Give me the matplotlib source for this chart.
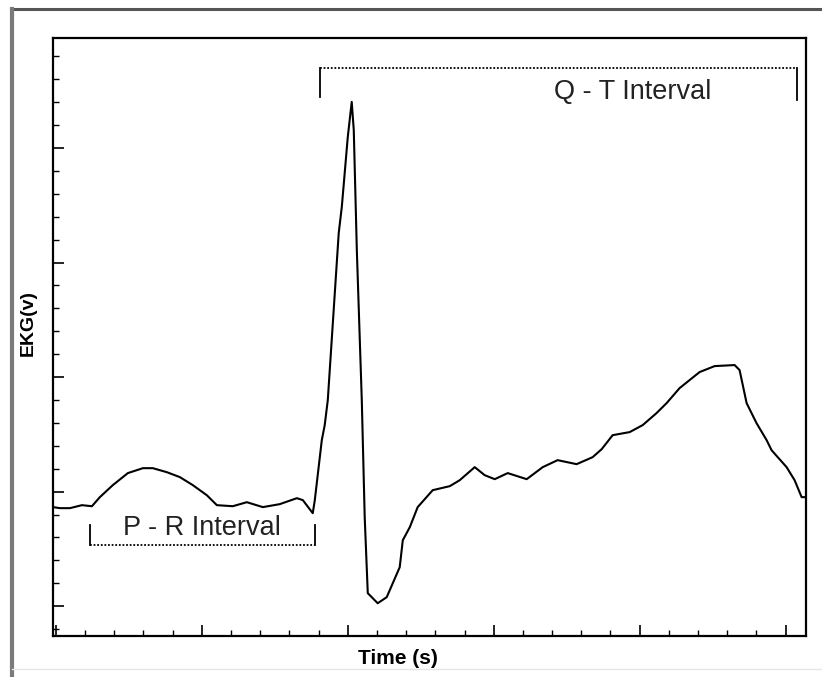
import matplotlib
matplotlib.use('Agg')
import matplotlib.pyplot as plt
from matplotlib.lines import Line2D
from matplotlib.ticker import MultipleLocator, NullFormatter

plt.rcParams['font.family'] = ['Liberation Sans', 'DejaVu Sans']

# EKG trace (one major tick = 1 unit on each axis)
time = [-0.02, 0.027, 0.096, 0.178, 0.247, 0.301, 0.390, 0.493, 0.596, 0.664,
        0.760, 0.849, 0.938, 1.034, 1.103, 1.212, 1.308, 1.418, 1.534, 1.651,
        1.692, 1.760, 1.774, 1.822, 1.842, 1.863, 1.938, 1.959, 2.000, 2.027,
        2.041, 2.062, 2.096, 2.116, 2.137, 2.205, 2.267, 2.356, 2.377, 2.425,
        2.479, 2.582, 2.699, 2.767, 2.870, 2.938, 3.007, 3.096, 3.226, 3.336,
        3.438, 3.568, 3.678, 3.740, 3.815, 3.932, 4.021, 4.116, 4.185, 4.274,
        4.411, 4.514, 4.651, 4.685, 4.733, 4.801, 4.870, 4.904, 5.007, 5.062,
        5.110, 5.137]
ekg = [0.865, 0.856, 0.856, 0.882, 0.873, 0.952, 1.057, 1.162, 1.205, 1.205,
       1.170, 1.127, 1.057, 0.969, 0.882, 0.873, 0.908, 0.865, 0.891, 0.943,
       0.926, 0.812, 0.926, 1.450, 1.581, 1.799, 3.258, 3.485, 4.096, 4.402,
       4.157, 3.109, 1.799, 0.777, 0.114, 0.026, 0.079, 0.341, 0.576, 0.690,
       0.865, 1.013, 1.048, 1.100, 1.214, 1.144, 1.109, 1.162, 1.109, 1.214,
       1.275, 1.240, 1.301, 1.371, 1.493, 1.520, 1.581, 1.686, 1.773, 1.904,
       2.044, 2.096, 2.105, 2.061, 1.773, 1.598, 1.450, 1.362, 1.214, 1.100,
       0.952, 0.952]

# interval brackets (start, end) on the time axis
pr_interval = (0.233, 1.774)
qt_interval = (1.808, 5.075)

fig = plt.figure(figsize=(8.22, 6.77), dpi=100)
ax = fig.add_axes([53 / 822, 1 - 636 / 677, 753 / 822, 598 / 677])

ax.plot(time, ekg, color='black', lw=1.5)

ax.set_xlim(-0.02, 5.14)
ax.set_ylim(-0.26, 4.96)

ax.xaxis.set_major_locator(MultipleLocator(1))
ax.xaxis.set_minor_locator(MultipleLocator(0.2))
ax.yaxis.set_major_locator(MultipleLocator(1))
ax.yaxis.set_minor_locator(MultipleLocator(0.2))
ax.xaxis.set_major_formatter(NullFormatter())
ax.yaxis.set_major_formatter(NullFormatter())
ax.tick_params(which='both', direction='in', top=False, right=False, color='black')
ax.tick_params(which='major', length=8, width=1.2)
ax.tick_params(which='minor', length=4, width=1.0)
for s in ax.spines.values():
    s.set_linewidth(1.6)

ax.set_xlabel('Time (s)', fontsize=15, fontweight='bold')
ax.set_ylabel('EKG(v)', fontsize=14, fontweight='bold')
ax.xaxis.set_label_coords(0.458, -0.022)
ax.yaxis.set_label_coords(-0.022, 0.523)

# P - R bracket
x0, x1 = pr_interval
ax.plot([x0, x1], [0.533, 0.533], color='black', lw=1.3, ls=(0, (1, 1)))
ax.plot([x0, x0], [0.707, 0.533], color='black', lw=1.3)
ax.plot([x1, x1], [0.707, 0.533], color='black', lw=1.3)
ax.text((x0 + x1) / 2, 0.68, 'P - R Interval', ha='center', va='center', fontsize=19.5,
        color='#222222')

# Q - T bracket
x0, x1 = qt_interval
ax.plot([x0, x1], [4.699, 4.699], color='black', lw=1.3, ls=(0, (1, 1)))
ax.plot([x0, x0], [4.699, 4.445], color='black', lw=1.3)
ax.plot([x1, x1], [4.699, 4.42], color='black', lw=1.3)
ax.text(3.952, 4.489, 'Q - T Interval', ha='center', va='center', fontsize=19.5,
        color='#222222')

# outer frame of the original screenshot
fig.add_artist(Line2D([12 / 822, 1], [1 - 9 / 677, 1 - 9 / 677], color='#555555', lw=2.2))
fig.add_artist(Line2D([12 / 822, 12 / 822], [0, 1 - 9 / 677], color='#7a7a7a', lw=3))
fig.add_artist(Line2D([12 / 822, 1], [1 - 669 / 677, 1 - 669 / 677], color='#e6e6e6', lw=1))

fig.savefig('out.png', dpi=100)
